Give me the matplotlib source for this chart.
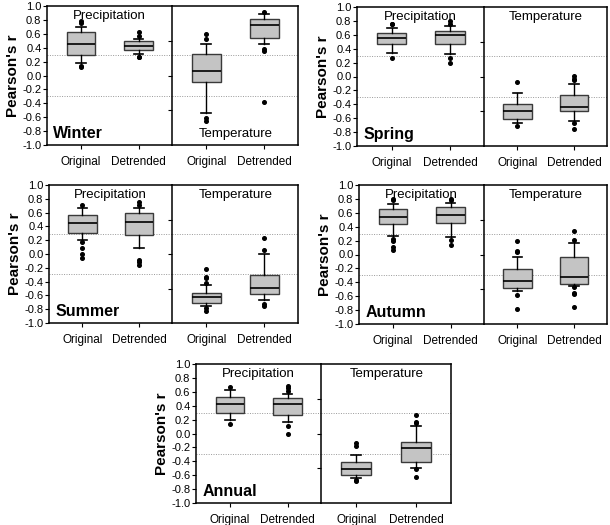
import matplotlib
matplotlib.use("Agg")
import matplotlib.pyplot as plt

plt.rcParams["font.family"] = ["Liberation Sans", "DejaVu Sans"]

box_labels = ["Original", "Detrended"]
r_crit = 0.29  # dotted significance lines

# five-number summaries per box: [whislo, q1, median, q3, whishi]
winter_prec = [[0.18, 0.30, 0.46, 0.63, 0.70], [0.31, 0.37, 0.43, 0.49, 0.52]]
winter_prec_out = [[0.75, 0.79, 0.14, 0.12], [0.57, 0.63, 0.27, 0.26]]
winter_temp = [[-0.54, -0.10, 0.06, 0.31, 0.46], [0.45, 0.54, 0.73, 0.81, 0.88]]
winter_temp_out = [[0.53, 0.60, -0.61, -0.65], [0.91, 0.38, 0.35, -0.38]]

spring_prec = [[0.34, 0.47, 0.55, 0.63, 0.70], [0.33, 0.47, 0.60, 0.66, 0.72]]
spring_prec_out = [[0.75, 0.76, 0.27], [0.76, 0.80, 0.27, 0.19]]
spring_temp = [[-0.67, -0.61, -0.50, -0.40, -0.24], [-0.64, -0.50, -0.44, -0.26, -0.11]]
spring_temp_out = [[-0.08, -0.71], [0.005, -0.03, -0.05, -0.67, -0.76]]

summer_prec = [[0.21, 0.31, 0.45, 0.57, 0.66], [0.09, 0.28, 0.46, 0.60, 0.67]]
summer_prec_out = [[0.71, 0.18, 0.08, -0.005, -0.06], [0.71, 0.75, -0.08, -0.12, -0.16]]
summer_temp = [[-0.75, -0.71, -0.63, -0.56, -0.45], [-0.67, -0.58, -0.49, -0.31, 0.005]]
summer_temp_out = [[-0.42, -0.35, -0.33, -0.22, -0.78, -0.82], [0.06, 0.23, -0.73, -0.75]]

autumn_prec = [[0.26, 0.44, 0.54, 0.66, 0.73], [0.25, 0.45, 0.57, 0.68, 0.74]]
autumn_prec_out = [[0.78, 0.80, 0.23, 0.20, 0.11, 0.06], [0.78, 0.80, 0.21, 0.13]]
autumn_temp = [[-0.53, -0.48, -0.38, -0.21, -0.04], [-0.46, -0.42, -0.32, -0.04, 0.17]]
autumn_temp_out = [[0.03, 0.05, 0.20, -0.58, -0.78], [0.21, 0.34, -0.47, -0.55, -0.57, -0.76]]

annual_prec = [[0.19, 0.29, 0.42, 0.53, 0.62], [0.17, 0.27, 0.43, 0.51, 0.57]]
annual_prec_out = [[0.67, 0.13], [0.61, 0.66, 0.69, 0.11, -0.01]]
annual_temp = [[-0.64, -0.60, -0.51, -0.41, -0.31], [-0.49, -0.41, -0.21, -0.12, 0.11]]
annual_temp_out = [[-0.18, -0.13, -0.67, -0.69], [0.15, 0.17, 0.26, -0.51, -0.63]]

W, H = 610, 525


def to_stats(summaries, outliers):
    out = []
    for s, f in zip(summaries, outliers):
        out.append(dict(whislo=s[0], q1=s[1], med=s[2], q3=s[3], whishi=s[4], fliers=f))
    return out


def draw_half(ax, stats, title, title_y):
    ax.bxp(stats, positions=[1, 2], widths=0.5, capwidths=0.17, patch_artist=True,
           boxprops=dict(facecolor="#c4c4c4", edgecolor="#3a3a3a", linewidth=1.0),
           medianprops=dict(color="black", linewidth=1.2),
           whiskerprops=dict(color="black", linewidth=1.0),
           capprops=dict(color="black", linewidth=1.2),
           flierprops=dict(marker="o", markersize=2.6, markerfacecolor="black",
                           markeredgecolor="black"))
    ax.set_xlim(0.41, 2.58)
    ax.set_ylim(-1.0, 1.0)
    for v in (r_crit, -r_crit):
        ax.axhline(v, color="#999999", linestyle=(0, (1, 1.5)), linewidth=0.7, zorder=0)
    ax.set_xticks([1, 2])
    ax.set_xticklabels(box_labels, fontsize=8.5)
    ax.tick_params(axis="x", length=3, pad=5)
    for sp in ax.spines.values():
        sp.set_linewidth(1.1)
    ax.text(1.5, title_y, title, ha="center", va="center", fontsize=9.5)


def panel(left, div, right, top, bottom, season, prec, prec_out, temp, temp_out, temp_y=0.86):
    y0 = 1 - bottom / H
    h = (bottom - top) / H
    axp = fig.add_axes([left / W, y0, (div - left) / W, h])
    axt = fig.add_axes([div / W, y0, (right - div) / W, h])
    draw_half(axp, to_stats(prec, prec_out), "Precipitation", 0.86)
    draw_half(axt, to_stats(temp, temp_out), "Temperature", temp_y)
    axp.set_yticks([-1.0 + 0.2 * i for i in range(11)])
    axp.set_yticklabels([f"{-1.0 + 0.2 * i:.1f}" for i in range(11)], fontsize=8)
    axp.tick_params(axis="y", length=3, pad=1)
    axp.set_ylabel("Pearson's r", fontsize=11, fontweight="bold", labelpad=2)
    axp.text(0.05, 0.08, season, fontsize=11.5, fontweight="bold", ha="left", va="center",
             transform=axp.transAxes)
    axt.set_yticks([-0.5, 0.0, 0.5])
    axt.set_yticklabels([])
    axt.tick_params(axis="y", length=3)
    axp.spines["right"].set_visible(False)


fig = plt.figure(figsize=(W / 100, H / 100), dpi=100)

panel(47, 172, 298, 6, 145, "Winter", winter_prec, winter_prec_out,
      winter_temp, winter_temp_out, temp_y=-0.84)
panel(357, 484, 607, 7, 146, "Spring", spring_prec, spring_prec_out,
      spring_temp, spring_temp_out)
panel(49, 172, 298, 185, 323, "Summer", summer_prec, summer_prec_out,
      summer_temp, summer_temp_out)
panel(359, 484, 607, 185, 324, "Autumn", autumn_prec, autumn_prec_out,
      autumn_temp, autumn_temp_out)
panel(196, 321, 451, 364, 503, "Annual", annual_prec, annual_prec_out,
      annual_temp, annual_temp_out)

fig.savefig("out.png", dpi=100)
